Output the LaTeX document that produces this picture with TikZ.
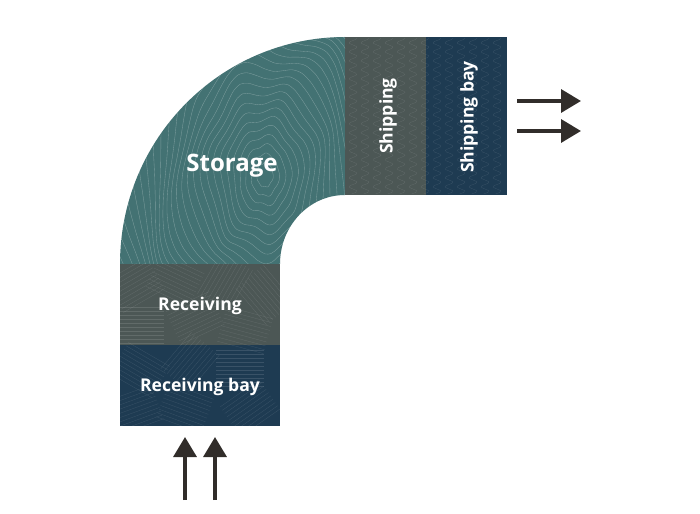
\documentclass[tikz,border=0pt]{standalone}
\usepackage{fontspec}
\setmainfont{Open Sans}
\usetikzlibrary{arrows.meta}
\definecolor{storagecol}{HTML}{437273}
\definecolor{workcol}{HTML}{4C5755}
\definecolor{baycol}{HTML}{1E3B52}
\definecolor{arrowcol}{HTML}{312D2A}
\tikzset{
    flow/.style = {line width=0.1cm,arrowcol,-{Triangle[length=0.6cm,width=0.69cm]}},
    zonetext/.style = {text=white,inner sep=0},
    smalltext/.style = {zonetext,font=\bfseries\fontsize{15}{18}\selectfont},
    grain/.style = {line width=0.25pt,white,opacity=0.12},
    contour/.style = {line width=0.3pt,white,opacity=0.3}
}
\newcommand*\storagepath{(120,264) arc[start angle=180,end angle=270,x radius=225,y radius=227]
    -- (345,195) arc[start angle=270,end angle=180,x radius=65,y radius=69] -- cycle}
\begin{document}
\begin{tikzpicture}[x=0.03cm,y=-0.03cm]
    \useasboundingbox (0,0) rectangle (700,514);
    % Zones
    \fill[baycol] (120,345) rectangle (280,426);
    \fill[workcol] (120,264) rectangle (280,345);
    \fill[storagecol] \storagepath;
    \fill[workcol] (345,37) rectangle (426,195);
    \fill[baycol] (426,37) rectangle (507,195);
    % Storage contours
    \begin{scope}
        \clip \storagepath;
        \foreach \r in {8,14,...,250}
            \draw[contour] plot[smooth cycle,samples=48,domain=0:352.5]
                ({265+\r*cos(\x)*(1+0.05*sin(5*\x+\r*4))},{175+1.5*\r*sin(\x)*(1+0.06*sin(7*\x-\r*3))});
    \end{scope}
    % Receiving grain
    \begin{scope}
        \clip (120,264) rectangle (280,426);
        \foreach \cx/\cy/\ang in {135/285/30,175/280/-25,225/282/60,265/295/-50,
                                  140/325/0,195/318/25,245/330/-15,
                                  140/370/-30,190/362/50,240/368/0,
                                  135/410/20,185/408/-20,250/408/35}
            \foreach \d in {-18,-14,...,18}
                \draw[grain,shift={(\cx,\cy)},rotate=\ang] (-24,\d) -- (24,\d);
    \end{scope}
    % Shipping grain
    \foreach \col in {353,365,...,500}
        \draw[grain] plot[smooth,samples=90,domain=38:194] ({\col+4*sin(\x*40)},\x);
    % Labels
    \node[zonetext,font=\bfseries\fontsize{20.5}{24}\selectfont] (storage) at (232,166) {Storage};
    \node[smalltext] (receiving) at (200,306) {Receiving};
    \node[smalltext] (recvbay) at (200,387) {Receiving bay};
    \node[smalltext,rotate=90] (shipping) at (388,116) {Shipping};
    \node[smalltext,rotate=90] (shipbay) at (469,117) {Shipping bay};
    % Arrow ends
    \coordinate (in1s) at (185,500);
    \coordinate (in1e) at (185,437);
    \coordinate (in2s) at (215,500);
    \coordinate (in2e) at (215,437);
    \coordinate (out1s) at (517,101);
    \coordinate (out1e) at (581,101);
    \coordinate (out2s) at (517,131);
    \coordinate (out2e) at (581,131);
    % Flows
    \foreach \src/\dest in {in1s/in1e,in2s/in2e,out1s/out1e,out2s/out2e}
        \draw[flow] (\src) -- (\dest);
\end{tikzpicture}
\end{document}
